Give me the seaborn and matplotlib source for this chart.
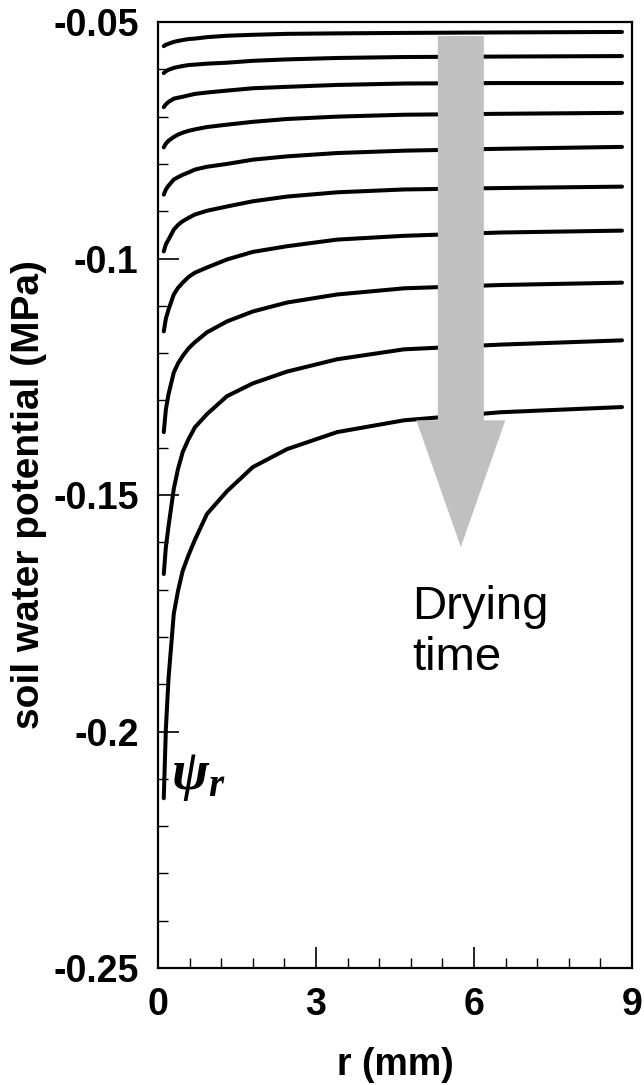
import numpy as np
import pandas as pd
import matplotlib
matplotlib.use("Agg")
import matplotlib.pyplot as plt
from matplotlib.patches import FancyArrow
from matplotlib.ticker import FixedLocator, FixedFormatter
import seaborn as sns

# ---------------- data ----------------
r_mm = [0.11, 0.15, 0.2, 0.3, 0.38, 0.47, 0.58, 0.7, 0.93, 1.31, 1.8, 2.45, 3.4, 4.67, 6.5, 8.81]

psi_1 = [-0.0551, -0.0548, -0.0546, -0.0542, -0.0540, -0.0538, -0.0536, -0.0535, -0.0532, -0.0529, -0.0527, -0.0525, -0.0524, -0.0523, -0.0522, -0.0521]
psi_2 = [-0.0608, -0.0604, -0.0601, -0.0597, -0.0595, -0.0593, -0.0591, -0.0590, -0.0588, -0.0586, -0.0582, -0.0579, -0.0576, -0.0574, -0.0573, -0.0572]
psi_3 = [-0.0680, -0.0674, -0.0669, -0.0662, -0.0660, -0.0658, -0.0655, -0.0652, -0.0649, -0.0645, -0.0640, -0.0637, -0.0633, -0.0630, -0.0629, -0.0629]
psi_4 = [-0.0765, -0.0757, -0.0751, -0.0743, -0.0738, -0.0734, -0.0730, -0.0727, -0.0722, -0.0717, -0.0711, -0.0705, -0.0700, -0.0696, -0.0694, -0.0692]
psi_5 = [-0.0865, -0.0854, -0.0846, -0.0833, -0.0828, -0.0823, -0.0818, -0.0812, -0.0806, -0.0800, -0.0791, -0.0784, -0.0777, -0.0772, -0.0768, -0.0764]
psi_6 = [-0.0985, -0.0970, -0.0960, -0.0939, -0.0929, -0.0921, -0.0914, -0.0907, -0.0899, -0.0890, -0.0879, -0.0869, -0.0860, -0.0854, -0.0851, -0.0848]
psi_7 = [-0.1154, -0.1127, -0.1108, -0.1076, -0.1062, -0.1051, -0.1039, -0.1030, -0.1019, -0.1002, -0.0986, -0.0974, -0.0960, -0.0952, -0.0945, -0.0941]
psi_8 = [-0.1367, -0.1319, -0.1287, -0.1241, -0.1222, -0.1206, -0.1190, -0.1177, -0.1156, -0.1133, -0.1112, -0.1093, -0.1076, -0.1063, -0.1056, -0.1051]
psi_9 = [-0.1667, -0.1610, -0.1566, -0.1487, -0.1445, -0.1409, -0.1382, -0.1357, -0.1329, -0.1291, -0.1264, -0.1239, -0.1213, -0.1192, -0.1182, -0.1173]
psi_10 = [-0.2141, -0.1994, -0.1888, -0.1751, -0.1703, -0.1660, -0.1627, -0.1595, -0.1540, -0.1492, -0.1441, -0.1403, -0.1367, -0.1342, -0.1325, -0.1314]

curves = [psi_1, psi_2, psi_3, psi_4, psi_5, psi_6, psi_7, psi_8, psi_9, psi_10]

x_ticks = [0, 3, 6, 9]
x_tick_labels = ["0", "3", "6", "9"]
y_ticks = [-0.25, -0.2, -0.15, -0.1, -0.05]
y_tick_labels = ["-0.25", "-0.2", "-0.15", "-0.1", "-0.05"]
x_label = "r (mm)"
y_label = "soil water potential (MPa)"
arrow_text = "Drying\ntime"

# ---------------- styling ----------------
sns.set_theme(style="ticks")
plt.rcParams["font.family"] = ["Liberation Sans", "DejaVu Sans"]
plt.rcParams["axes.unicode_minus"] = False
plt.rcParams["text.color"] = "black"
plt.rcParams["axes.labelcolor"] = "black"
plt.rcParams["xtick.color"] = "black"
plt.rcParams["ytick.color"] = "black"
plt.rcParams["axes.edgecolor"] = "black"
plt.rcParams["mathtext.fontset"] = "custom"
plt.rcParams["mathtext.it"] = "Liberation Serif:italic:bold"
plt.rcParams["mathtext.rm"] = "Liberation Serif:bold"

df = pd.concat(
    [pd.DataFrame({"r": r_mm, "psi": c, "curve": i}) for i, c in enumerate(curves)],
    ignore_index=True,
)

fig = plt.figure(figsize=(6.44, 10.85), dpi=100)
ax = fig.add_axes([0.2453, 0.1078, 0.9814 - 0.2453, 0.9797 - 0.1078])

sns.lineplot(
    data=df, x="r", y="psi", hue="curve", palette=["black"] * len(curves),
    legend=False, estimator=None, sort=False, linewidth=2.9, ax=ax, zorder=2,
)

ax.set_xlim(0, 9)
ax.set_ylim(-0.25, -0.05)

ax.xaxis.set_major_locator(FixedLocator(x_ticks))
ax.xaxis.set_major_formatter(FixedFormatter(x_tick_labels))
ax.yaxis.set_major_locator(FixedLocator(y_ticks))
ax.yaxis.set_major_formatter(FixedFormatter(y_tick_labels))
ax.set_xticks(np.arange(0, 9.01, 0.6), minor=True)
ax.set_yticks(np.arange(-0.25, -0.0499, 0.01), minor=True)

ax.tick_params(axis="both", which="major", direction="in", length=15, width=1.2,
               color="black", labelcolor="black", pad=14, labelsize=27,
               top=False, right=False)
ax.tick_params(axis="both", which="minor", direction="in", length=7.5, width=1.0,
               color="black", top=False, right=False)
for lab in ax.get_xticklabels() + ax.get_yticklabels():
    lab.set_fontweight("bold")

for sp in ax.spines.values():
    sp.set_visible(True)
    sp.set_linewidth(1.6)
    sp.set_color("black")

ax.set_xlabel(x_label, fontsize=27, fontweight="bold", labelpad=17, color="black")
ax.set_ylabel(y_label, fontsize=28, fontweight="bold", labelpad=4, color="black")

# grey "drying time" arrow
arrow = FancyArrow(5.75, -0.05295, 0, -0.161 + 0.05295, width=0.873,
                   head_width=1.69, head_length=0.0268, length_includes_head=True,
                   color="#c0c0c0", linewidth=0, zorder=3)
ax.add_patch(arrow)

ax.text(4.82, -0.1690, arrow_text, fontsize=34, color="black", ha="left", va="top",
        linespacing=1.2, zorder=4)

ax.text(0.25, -0.2121, r"$\psi_r$", fontsize=40, color="black", ha="left",
        va="baseline", zorder=4)

fig.savefig("out.png", dpi=100)
